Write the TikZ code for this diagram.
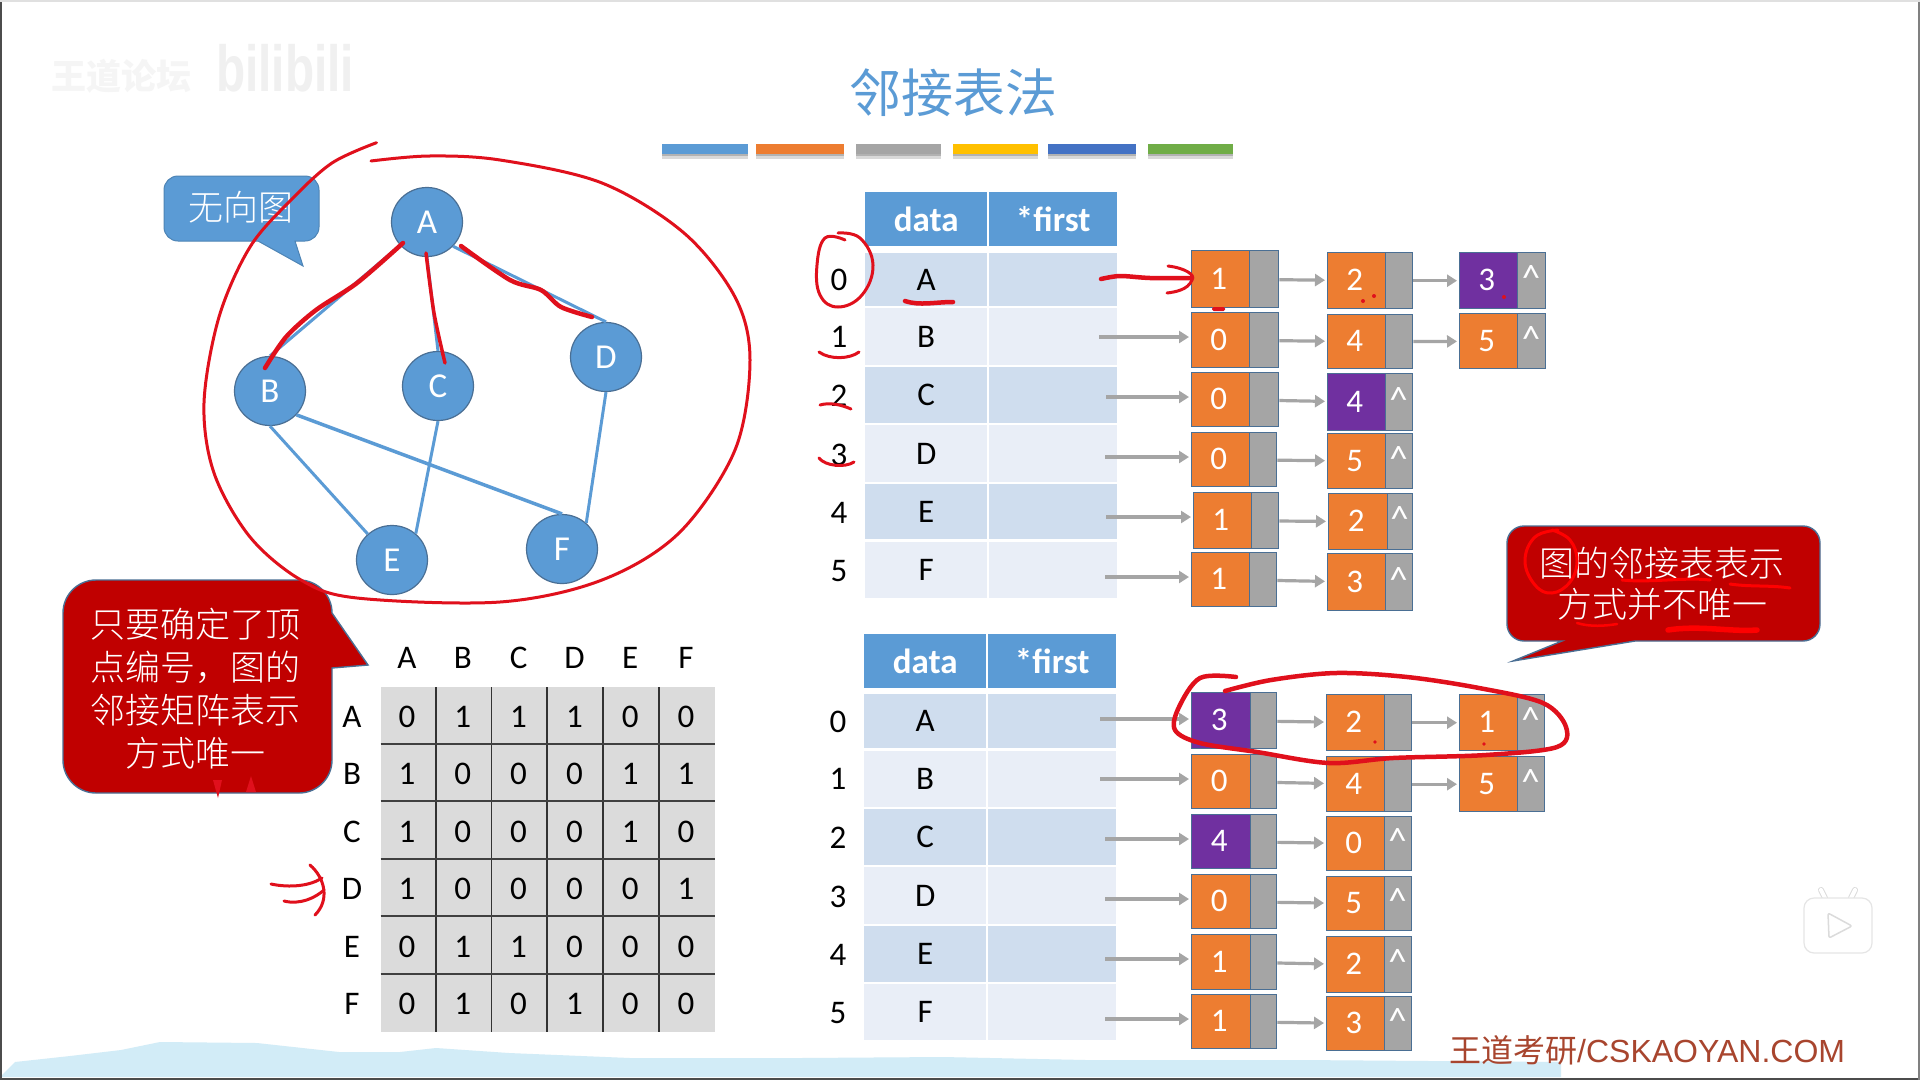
\documentclass[tikz,border=0pt]{standalone}
\usepackage{fontspec}
\setmainfont{Carlito}
\newfontfamily\cjk{Noto Sans CJK SC}
\newfontfamily\cjkl{Noto Sans CJK SC Light}
\newfontfamily\lib{Liberation Sans}
\usetikzlibrary{arrows.meta,calc,shapes.geometric}
\definecolor{tblue}{HTML}{5B9BD5}
\definecolor{orangec}{HTML}{ED7D31}
\definecolor{greyc}{HTML}{A5A5A5}
\definecolor{purplec}{HTML}{7030A0}
\definecolor{edgec}{HTML}{4A6F94}
\definecolor{rowa}{HTML}{CFDDEE}
\definecolor{rowb}{HTML}{E9EEF7}
\definecolor{redc}{HTML}{C00000}
\definecolor{inkred}{HTML}{E0101C}
\definecolor{hill}{HTML}{D2ECF7}
\definecolor{foot}{HTML}{A8452E}
\definecolor{gridf}{HTML}{DBDBDB}
\definecolor{FFCx}{HTML}{FFC000}
\definecolor{BLUx}{HTML}{4472C4}
\definecolor{GRNx}{HTML}{70AD47}
\tikzset{
  x=1pt,y=-1pt,
  basetext/.style={inner sep=0,outer sep=0,text height=21pt,text depth=0pt,font=\fontsize{33}{38}\selectfont},
  vertex/.style={ellipse,fill=tblue,draw=edgec,line width=1.2pt,minimum width=71pt,minimum height=69pt,inner sep=0,text=white,font=\fontsize{35}{38}\selectfont},
  edgeline/.style={draw=tblue,line width=3pt},
  ink/.style={draw=inkred,line width=3pt,line cap=round,line join=round},
  inkthick/.style={draw=inkred,line width=4.5pt,line cap=round,line join=round},
  flow/.style={draw=greyc,line width=3.2pt,-{Triangle[length=10pt,width=12pt]},shorten >=2pt},
  hdr/.style={fill=tblue,text=white,inner sep=0,font=\fontsize{35}{38}\bfseries\selectfont},
  outerbox/.style={draw=edgec,line width=1.4pt,fill=greyc,inner sep=0,anchor=north west},
  valcell/.style={inner sep=0,anchor=north west,text=white,text height=21pt,text depth=0pt,font=\fontsize{33}{38}\selectfont},
  ptrtxt/.style={text=white,inner sep=0,text height=21pt,text depth=0pt,font=\fontsize{37}{38}\selectfont},
  callred/.style={fill=redc,draw=edgec,line width=1.4pt},
  cjktext/.style={text=white,align=center,inner sep=0,font=\cjkl\fontsize{35}{43}\selectfont},
}
% name,x0,x1,xsplit,y0,y1,fill,val,ptr
\newcommand{\lnode}[9]{%
  \pgfmathsetmacro\wa{#3-#2}\pgfmathsetmacro\ha{#6-#5}\pgfmathsetmacro\wb{#4-#2}%
  \pgfmathsetmacro\px{(#4+#3)/2}\pgfmathsetmacro\py{(#5+#6)/2}%
  \node[outerbox,minimum width=\wa pt,minimum height=\ha pt] (#1) at (#2,#5) {};
  \node[valcell,fill=#7,minimum width=\wb pt,minimum height=\ha pt,draw=edgec,line width=.6pt] (#1v) at (#2,#5) {\kern-3pt #8};
  \node[ptrtxt] (#1p) at (\px,\py) {#9};
}
% name,x0,x1,y0,y1,colour,text
\newcommand{\rowcell}[7]{%
  \pgfmathsetmacro\wa{#3-#2}\pgfmathsetmacro\ha{#5-#4}%
  \node[inner sep=0,anchor=north west,fill=#6,minimum width=\wa pt,minimum height=\ha pt,text height=21pt,text depth=0pt,font=\fontsize{33}{38}\selectfont] (#1) at (#2,#4) {#7};
}
\begin{document}
\begin{tikzpicture}
\useasboundingbox (0,0) rectangle (1920,1080);
\fill[white] (0,0) rectangle (1920,1080);
% frame
\fill[hill] (0,1077) -- (15,1062) -- (70,1056) -- (121,1050) -- (160,1042) -- (257,1043) -- (339,1052) -- (400,1052) -- (436,1048) -- (509,1053) -- (630,1058) -- (800,1058) -- (943,1057) -- (1086,1060) -- (1300,1060) -- (1561,1062) -- (1561,1077) -- cycle;
\fill[black!70] (0,1077.5) rectangle (1920,1080);
\fill[black!70] (0,0) rectangle (1.5,1080);
\fill[black!50] (1918,0) rectangle (1920,1080);
\fill[black!12] (0,0) rectangle (1920,1.5);
% watermark
\node[inner sep=0,text=black!4,font=\cjk\bfseries\fontsize{35}{38}\selectfont] (wm1) at (121,76) {王道论坛};
\node[inner sep=0,text=black!6,font=\lib\bfseries\fontsize{62}{62}\selectfont,xscale=.77,yscale=1.05] (wm2) at (285,68) {bilibili};
% title
\node[inner sep=0,text=tblue,font=\cjk\fontsize{52}{56}\selectfont] (title) at (953,93) {邻接表法};
% colour bars
\foreach \a/\b/\c in {662/748/tblue,756/844/orangec,856/941/greyc,953/1038/FFCx,1048/1136/BLUx,1148/1233/GRNx}{
  \fill[black!15] (\a,154) rectangle (\b,159);
  \fill[black!30] (\a,154) rectangle (\b,156);
  \fill[\c] (\a,144) rectangle (\b,154);
}
% graph
\node[vertex] (A) at (427,222) {A};
\node[vertex] (B) at (270,391) {B};
\node[vertex] (C) at (438,386) {C};
\node[vertex] (D) at (606,357) {D};
\node[vertex] (E) at (392,560) {E};
\node[vertex] (F) at (562,549) {F};
\draw[edgeline] (A.221) -- (B.north);
\draw[edgeline] (A.south) -- (C.north);
\draw[edgeline] (A.317) -- (D.north);
\draw[edgeline] (B.south) -- (E.133);
\draw[edgeline,line width=3.5pt] (B.318) -- (F.north);
\draw[edgeline] (C.south) -- (E.48);
\draw[edgeline] (D.south) -- (F.47);
% callout blue
\path[fill=tblue,draw=tblue!85!black,line width=1pt,rounded corners=14pt] (164,176) -- (319,176) -- (319,241) [sharp corners] -- (295,241) -- (303,266) -- (258,241) [rounded corners=14pt] -- (164,241) -- cycle;
\node[inner sep=0,text=white,font=\cjkl\fontsize{35}{38}\selectfont] (cb) at (241,207) {无向图};
% red callout left
\path[callred,rounded corners=33pt] (63,580) -- (332,580) [sharp corners] -- (332,613) -- (368,665) -- (332,668) [rounded corners=33pt] -- (332,793) -- (63,793) -- cycle;
\node[cjktext] (cl) at (195,689) {只要确定了顶\\点编号，图的\\邻接矩阵表示\\方式唯一};
% red callout right
\path[callred,rounded corners=17pt] (1507,526) -- (1820,526) -- (1820,641) [sharp corners] -- (1635,641) -- (1513,661) -- (1562,641) [rounded corners=17pt] -- (1507,641) -- cycle;
\node[cjktext,font=\cjkl\fontsize{35}{41}\selectfont] (cr) at (1662,584) {图的邻接表表示\\方式并不唯一};
% matrix
\fill[gridf] (380.5,687) rectangle (714.5,1032);
\foreach \x in {436,491.5,547,603,659} \draw[black!80,line width=1.6pt] (\x,687) -- (\x,1032);
\foreach \y in {744,801,859,916,974} \draw[black!75,line width=1.6pt] (380.5,\y) -- (714.5,\y);
\foreach \t [count=\i] in {A,B,C,D,E,F}{
  \pgfmathsetmacro\cx{407+55.8*(\i-1)}
  \pgfmathsetmacro\cy{717+57.4*(\i-1)}
  \node[basetext] (mc\i) at (\cx,658) {\t};
  \node[basetext] (mr\i) at (352,\cy) {\t};
}
\foreach \row [count=\j] in {{0,1,1,1,0,0},{1,0,0,0,1,1},{1,0,0,0,1,0},{1,0,0,0,0,1},{0,1,1,0,0,0},{0,1,0,1,0,0}}{
  \pgfmathsetmacro\cy{717+57.4*(\j-1)}
  \foreach \v [count=\i] in \row {
    \pgfmathsetmacro\cx{407+55.8*(\i-1)}
    \node[basetext] (m\j-\i) at (\cx,\cy) {\v};
  }
}
% table 1
\node[hdr,anchor=north west,minimum width=122pt,minimum height=54pt] (h1a) at (865,192) {data};
\node[hdr,anchor=north west,minimum width=128pt,minimum height=54pt] (h1b) at (989,192) {*first};
\rowcell{ta0}{865}{987}{253}{306}{rowa}{A}\rowcell{tb0}{989}{1117}{253}{306}{rowa}{}
\rowcell{ta1}{865}{987}{308}{365}{rowb}{B}\rowcell{tb1}{989}{1117}{308}{365}{rowb}{}
\rowcell{ta2}{865}{987}{367}{423}{rowa}{C}\rowcell{tb2}{989}{1117}{367}{423}{rowa}{}
\rowcell{ta3}{865}{987}{425}{482}{rowb}{D}\rowcell{tb3}{989}{1117}{425}{482}{rowb}{}
\rowcell{ta4}{865}{987}{484}{539}{rowa}{E}\rowcell{tb4}{989}{1117}{484}{539}{rowa}{}
\rowcell{ta5}{865}{987}{542}{598}{rowb}{F}\rowcell{tb5}{989}{1117}{542}{598}{rowb}{}
\node[basetext] (i0) at (839,280) {0};
\node[basetext] (i1) at (839,337) {1};
\node[basetext] (i2) at (839,396) {2};
\node[basetext] (i3) at (839,455) {3};
\node[basetext] (i4) at (839,513) {4};
\node[basetext] (i5) at (839,571) {5};
% lists 1
\lnode{a01}{1191}{1278}{1249}{250}{307}{orangec}{1}{}
\lnode{a02}{1327}{1412}{1385}{252}{308}{orangec}{2}{}
\lnode{a03}{1459}{1545}{1517}{252}{308}{purplec}{3}{\^{}}
\lnode{a11}{1191}{1278}{1249}{312}{367}{orangec}{0}{}
\lnode{a12}{1327}{1412}{1385}{314}{368}{orangec}{4}{}
\lnode{a13}{1459}{1545}{1517}{313}{368}{orangec}{5}{\^{}}
\lnode{a21}{1191}{1278}{1249}{372}{426}{orangec}{0}{}
\lnode{a22}{1327}{1412}{1385}{373}{430}{purplec}{4}{\^{}}
\lnode{a31}{1191}{1276}{1249}{432}{486}{orangec}{0}{}
\lnode{a32}{1327}{1412}{1385}{433}{488}{orangec}{5}{\^{}}
\lnode{a41}{1193}{1278}{1251}{492}{548}{orangec}{1}{}
\lnode{a42}{1328}{1412}{1387}{493}{549}{orangec}{2}{\^{}}
\lnode{a51}{1191}{1276}{1249}{552}{606}{orangec}{1}{}
\lnode{a52}{1327}{1412}{1385}{553}{610}{orangec}{3}{\^{}}
\coordinate (s1) at (1099,337);
\coordinate (s2) at (1106,397);
\coordinate (s3) at (1105,457);
\coordinate (s4) at (1106,517);
\coordinate (s5) at (1105,577);
\foreach \r in {1,...,5} \draw[flow] (s\r) -- (s\r -| a\r1.west);
\draw[flow] (a01) -- (a02);\draw[flow] (a02) -- (a03);
\draw[flow] (a11) -- (a12);\draw[flow] (a12) -- (a13);
\draw[flow] (a21) -- (a22);\draw[flow] (a31) -- (a32);
\draw[flow] (a41) -- (a42);\draw[flow] (a51) -- (a52);
% table 2
\node[hdr,anchor=north west,minimum width=122pt,minimum height=54pt] (h2a) at (864,634) {data};
\node[hdr,anchor=north west,minimum width=128pt,minimum height=54pt] (h2b) at (988,634) {*first};
\rowcell{ua0}{864}{986}{694}{748}{rowa}{A}\rowcell{ub0}{988}{1116}{694}{748}{rowa}{}
\rowcell{ua1}{864}{986}{751}{807}{rowb}{B}\rowcell{ub1}{988}{1116}{751}{807}{rowb}{}
\rowcell{ua2}{864}{986}{809}{865}{rowa}{C}\rowcell{ub2}{988}{1116}{809}{865}{rowa}{}
\rowcell{ua3}{864}{986}{867}{924}{rowb}{D}\rowcell{ub3}{988}{1116}{867}{924}{rowb}{}
\rowcell{ua4}{864}{986}{926}{982}{rowa}{E}\rowcell{ub4}{988}{1116}{926}{982}{rowa}{}
\rowcell{ua5}{864}{986}{984}{1040}{rowb}{F}\rowcell{ub5}{988}{1116}{984}{1040}{rowb}{}
\node[basetext] (j0) at (838,722) {0};
\node[basetext] (j1) at (838,779) {1};
\node[basetext] (j2) at (838,838) {2};
\node[basetext] (j3) at (838,897) {3};
\node[basetext] (j4) at (838,955) {4};
\node[basetext] (j5) at (838,1013) {5};
% lists 2
\lnode{b01}{1191}{1276}{1250}{692}{748}{purplec}{3}{}
\lnode{b02}{1326}{1411}{1384}{694}{750}{orangec}{2}{}
\lnode{b03}{1459}{1544}{1517}{694}{750}{orangec}{1}{\^{}}
\lnode{b11}{1191}{1276}{1250}{754}{808}{orangec}{0}{}
\lnode{b12}{1326}{1411}{1384}{756}{811}{orangec}{4}{}
\lnode{b13}{1459}{1544}{1517}{756}{811}{orangec}{5}{\^{}}
\lnode{b21}{1191}{1276}{1250}{814}{868}{purplec}{4}{}
\lnode{b22}{1326}{1411}{1384}{816}{870}{orangec}{0}{\^{}}
\lnode{b31}{1191}{1276}{1250}{874}{928}{orangec}{0}{}
\lnode{b32}{1326}{1411}{1384}{876}{930}{orangec}{5}{\^{}}
\lnode{b41}{1191}{1276}{1250}{934}{989}{orangec}{1}{}
\lnode{b42}{1326}{1411}{1384}{936}{992}{orangec}{2}{\^{}}
\lnode{b51}{1191}{1276}{1250}{994}{1048}{orangec}{1}{}
\lnode{b52}{1326}{1411}{1384}{996}{1050}{orangec}{3}{\^{}}
\coordinate (t0) at (1100,719);
\coordinate (t1) at (1100,779);
\coordinate (t2) at (1105,839);
\coordinate (t3) at (1105,899);
\coordinate (t4) at (1105,959);
\coordinate (t5) at (1105,1019);
\foreach \r in {0,...,5} \draw[flow] (t\r) -- (t\r -| b\r1.west);
\draw[flow] (b01) -- (b02);\draw[flow] (b02) -- (b03);
\draw[flow] (b11) -- (b12);\draw[flow] (b12) -- (b13);
\draw[flow] (b21) -- (b22);\draw[flow] (b31) -- (b32);
\draw[flow] (b41) -- (b42);\draw[flow] (b51) -- (b52);
% footer
\node[inner sep=0,text=foot,font=\fontsize{32}{36}\selectfont,anchor=west] (foot) at (1449,1050) {{\cjk 王道考研}{\lib /CSKAOYAN.COM}};
% play icon
\draw[black!14,line width=6pt,line cap=round] (1825,898) -- (1821,890) (1851,898) -- (1855,890);
\draw[white,line width=4pt,line cap=round] (1825,898) -- (1821,890) (1851,898) -- (1855,890);
\path[fill=white,draw=black!10,line width=1.2pt,rounded corners=10pt] (1804,898) rectangle (1872,953);
\path[fill=white,draw=black!14,line width=1.5pt,line join=round,rounded corners=2pt] (1828,913) -- (1852,926) -- (1829,938) -- cycle;
% freehand ink
\draw[ink] plot[smooth,tension=.55] coordinates {(376.5,142.7) (332,163) (291,200) (250,247) (219,317) (204,403) (214,473) (250,537) (301,580) (357,598) (500,602) (602,580) (679,533) (735,450) (750,360) (735,297) (684,233) (602,183) (500,160) (429,156) (371,161)};
\draw[inkthick] plot[smooth,tension=.5] coordinates {(403,243) (357,283) (316,310) (286,337) (265,368)};
\draw[inkthick,line width=3.5pt] plot[smooth,tension=.5] coordinates {(426,253) (434,313) (445,363)};
\draw[inkthick] plot[smooth,tension=.5] coordinates {(461,246) (510,280) (541,290) (561,307) (592,317)};
\draw[ink] plot[smooth,tension=.7] coordinates {(845,240) (825,238) (817,265) (820,295) (838,307) (862,295) (873,265) (860,238) (838,233)};
\draw[inkthick] (905,301) .. controls (920,306) and (935,302) .. (953,302);
\draw[ink] (819,352) .. controls (830,360) and (850,359) .. (859,352);
\draw[ink] (820,405) .. controls (830,402) and (842,405) .. (851,409);
\draw[ink] (819,458) .. controls (825,466) and (845,468) .. (854,462);
\draw[inkthick] plot[smooth,tension=.5] coordinates {(1101,279) (1120,276) (1150,278) (1190,278)};
\draw[ink] (1168,266) .. controls (1185,268) and (1196,275) .. (1192,280) .. controls (1188,290) and (1175,292) .. (1167,293);
\fill[inkred,rounded corners=1.5pt] (1212,307) rectangle (1225,311);
\fill[inkred] (1363,301) circle (2) (1374,296) circle (2) (1504,297) circle (2) (1375,742) circle (1.8) (1484,744) circle (1.8);
\draw[inkthick] plot[smooth,tension=.55] coordinates {(1236,677) (1200,678) (1179,707) (1175,730) (1200,743) (1257,752) (1329,763) (1393,758) (1486,755) (1557,747) (1566,727) (1543,703) (1479,688) (1407,677) (1336,673) (1271,680) (1225,691)};
\draw[ink] (310,865) .. controls (325,878) and (330,900) .. (315,915);
\draw[ink] (271,884) .. controls (290,888) and (310,886) .. (322,878);
\draw[ink] (284,901) .. controls (300,905) and (315,898) .. (324,890);
\fill[inkred] (213,780) -- (222,780) -- (218,798) -- cycle;
\fill[inkred] (246,792) -- (256,792) -- (251,776) -- cycle;
\draw[ink,draw=red] plot[smooth,tension=.7] coordinates {(1558,530) (1535,537) (1525,561) (1535,585) (1552,593) (1570,582) (1577,561) (1570,540) (1552,530)};
\draw[draw=red,line width=3pt,line cap=round] (1622,580) .. controls (1650,583) and (1685,577) .. (1710,580);
\draw[draw=red,line width=3pt,line cap=round] (1730,584) .. controls (1750,587) and (1770,585) .. (1790,588);
\draw[draw=red,line width=2.5pt,line cap=round] (1577,623) .. controls (1590,627) and (1605,626) .. (1617,624);
\draw[draw=red,line width=5.5pt,line cap=round] (1668,630) .. controls (1700,625) and (1730,632) .. (1757,630);
\end{tikzpicture}
\end{document}
